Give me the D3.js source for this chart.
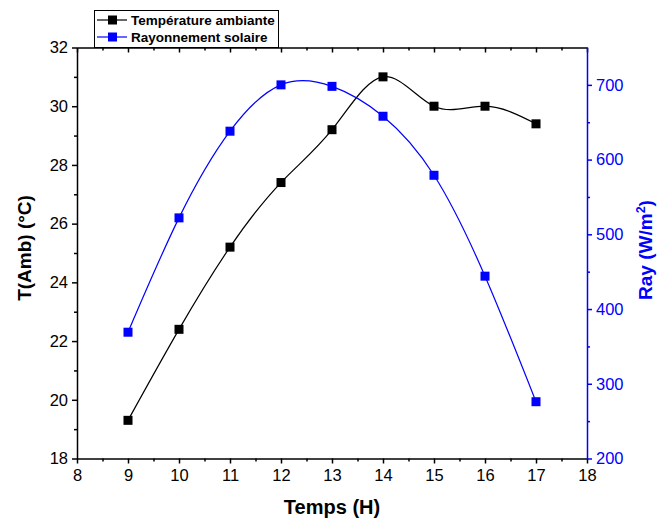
<!DOCTYPE html>
<html>
<head>
    <script src="https://d3js.org/d3.v7.min.js"></script>
    <style>
        body {margin: 0; font-family: Arial, "Liberation Sans", Helvetica, sans-serif; background: #fff;}
        .tick text {font-family: Arial, "Liberation Sans", sans-serif;}
    </style>
</head>
<body>
    <svg width="658" height="526"></svg>
    <script>
        // data
        let hours = [9, 10, 11, 12, 13, 14, 15, 16, 17];
        let temperature = [19.3, 22.4, 25.2, 27.4, 29.2, 31.0, 30.0, 30.0, 29.4];
        let radiation = [369, 522, 638, 700, 698, 658, 579, 444, 276];
        let xTicks = [8, 9, 10, 11, 12, 13, 14, 15, 16, 17, 18];
        let yLeftTicks = [18, 20, 22, 24, 26, 28, 30, 32];
        let yRightTicks = [200, 300, 400, 500, 600, 700];
        let seriesNames = ["Température ambiante", "Rayonnement solaire"];

        let pLeft = 77, pRight = 587, pTop = 47.5, pBottom = 458.5;
        let svg = d3.select("svg");

        let x = d3.scaleLinear().domain([8, 18]).range([pLeft, pRight]);
        let yL = d3.scaleLinear().domain([18, 32]).range([pBottom, pTop]);
        let yR = d3.scaleLinear().domain([200, 750]).range([pBottom, pTop]);

        // minor ticks at half steps
        let halves = (arr, step) => arr.slice(0, -1).map(v => v + step / 2);

        function drawAxis(axisFn, scale, major, minor, tf, color, labels) {
            let g = svg.append("g").attr("transform", tf);
            g.call(axisFn(scale).tickValues(minor).tickSize(3).tickFormat(""));
            let g2 = svg.append("g").attr("transform", tf);
            g2.call(axisFn(scale).tickValues(major).tickSize(5).tickSizeOuter(0)
                .tickFormat(labels ? d3.format("d") : ""));
            [g, g2].forEach(s => {
                s.selectAll("path, line").attr("stroke", color).attr("stroke-width", 1.5);
                s.selectAll("text").attr("fill", color).attr("font-size", 16.5);
            });
            g.select(".domain").remove();
            return g2;
        }

        let gx = drawAxis(d3.axisBottom, x, xTicks, halves(xTicks, 1), `translate(0,${pBottom})`, "#000", true);
        gx.selectAll("text").attr("dy", "0.9em");
        // top axis: ticks pointing down into the plot, no labels
        drawAxis(d3.axisBottom, x, xTicks, halves(xTicks, 1), `translate(0,${pTop})`, "#000", false);
        let gl = drawAxis(d3.axisLeft, yL, yLeftTicks, halves(yLeftTicks, 2), `translate(${pLeft},0)`, "#000", true);
        gl.selectAll("text").attr("x", -9);
        let gr = drawAxis(d3.axisRight, yR, yRightTicks, halves(yRightTicks.concat([800]), 100).filter(v => v < 750),
            `translate(${pRight},0)`, "#0000ff", true);
        gr.selectAll("text").attr("x", 9);

        // axis titles
        svg.append("text").attr("x", 332).attr("y", 514).attr("text-anchor", "middle")
            .attr("font-size", 20).attr("font-weight", "bold").text("Temps (H)");
        svg.append("text").attr("transform", "translate(31,248) rotate(-90)").attr("text-anchor", "middle")
            .attr("font-size", 19).attr("font-weight", "bold").text("T(Amb) (°C)");
        let rt = svg.append("text").attr("transform", "translate(652,250) rotate(-90)").attr("text-anchor", "middle")
            .attr("font-size", 19).attr("font-weight", "bold").attr("fill", "#0000ff");
        rt.append("tspan").text("Ray (W/m");
        rt.append("tspan").attr("dy", -7).attr("font-size", 12.5).text("2");
        rt.append("tspan").attr("dy", 7).text(")");

        // series
        let series = [
            {vals: temperature, y: yL, color: "#000"},
            {vals: radiation, y: yR, color: "#0000ff"}
        ];
        series.forEach(s => {
            let pts = hours.map((h, i) => [x(h), s.y(s.vals[i])]);
            svg.append("path").attr("d", d3.line().curve(d3.curveNatural)(pts))
                .attr("fill", "none").attr("stroke", s.color).attr("stroke-width", 1.2);
            svg.selectAll(null).data(pts).enter().append("rect")
                .attr("x", d => d[0] - 4.5).attr("y", d => d[1] - 4.5)
                .attr("width", 9).attr("height", 9).attr("fill", s.color);
        });

        // legend
        let lg = svg.append("g");
        lg.append("rect").attr("x", 94.5).attr("y", 10.5).attr("width", 184).attr("height", 37)
            .attr("fill", "#fff").attr("stroke", "#000").attr("stroke-width", 1);
        seriesNames.forEach((name, i) => {
            let cy = 20 + i * 17;
            let c = series[i].color;
            lg.append("line").attr("x1", 97).attr("x2", 127).attr("y1", cy).attr("y2", cy)
                .attr("stroke", c).attr("stroke-width", 1.2);
            lg.append("rect").attr("x", 108).attr("y", cy - 4.5).attr("width", 9).attr("height", 9).attr("fill", c);
            lg.append("text").attr("x", 131).attr("y", cy + 5).attr("font-size", 13.5)
                .attr("font-weight", "bold").text(name);
        });
    </script>
</body>
</html>
